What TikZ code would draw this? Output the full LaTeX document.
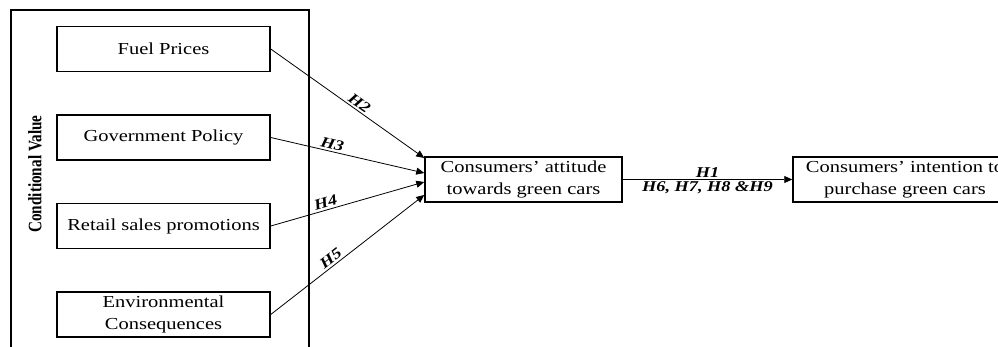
\documentclass[tikz,border=0pt]{standalone}
\usepackage{fontspec}
\setmainfont{Liberation Serif}[FakeStretch=1.22]
\newfontfamily\sidefont{Liberation Serif}[FakeStretch=0.8]
\usetikzlibrary{arrows.meta,positioning,calc}
\tikzset{
  factor/.style={draw, line width=1.5pt, minimum width=213pt, minimum height=45pt, align=center, inner sep=2pt, font=\fontsize{16.8}{22}\selectfont},
  construct/.style={factor, minimum width=197pt},
  link/.style={-{Triangle[length=8pt,width=7pt]}, line width=0.8pt},
  hyp/.style={font=\fontsize{15}{18}\selectfont\bfseries\itshape, inner sep=2pt},
  frame/.style={line width=2pt}
}
\begin{document}
\begin{tikzpicture}[x=1pt, y=1pt, node distance=42pt]
\useasboundingbox (0,-347) rectangle (998,0);
\clip (0,-347) rectangle (998,0);
% conditional value block
\draw[frame] (11,-352) -- (11,-10) -- (309,-10) -- (309,-352);
\node[rotate=90, font=\sidefont\bfseries\fontsize{19}{22}\selectfont] (cv) at (35,-174) {Conditional Value};
\node[factor] (fuel) at (163.5,-49) {Fuel Prices};
\node[factor, below=of fuel] (gov) {Government Policy};
\node[factor, below=of gov] (retail) {Retail sales promotions};
\node[factor, below=of retail] (env) {Environmental\\Consequences};
% outcomes
\node[construct] (att) at (523.5,-179.5) {Consumers’ attitude\\towards green cars};
\node[construct, minimum width=224pt] (int) at (905,-179.5) {Consumers’ intention to\\purchase green cars};
% hypotheses
\draw[link] (fuel.east) -- ($(att.west)+(0,21.5)$) node[hyp, sloped, above, pos=0.55] (h2) {H2};
\draw[link] (gov.east) -- ($(att.west)+(0,6.5)$) node[hyp, sloped, above, pos=0.39] (h3) {H3};
\draw[link] (retail.east) -- ($(att.west)+(0,-2.5)$) node[hyp, sloped, above, pos=0.37] (h4) {H4};
\draw[link] (env.east) -- ($(att.west)+(0,-15.5)$) node[hyp, sloped, above, pos=0.42] (h5) {H5};
\draw[link] (att) -- (int) node[hyp, midway, above] (h1) {H1} node[hyp, midway, below] (h69) {H6, H7, H8 \&H9};
\end{tikzpicture}
\end{document}
